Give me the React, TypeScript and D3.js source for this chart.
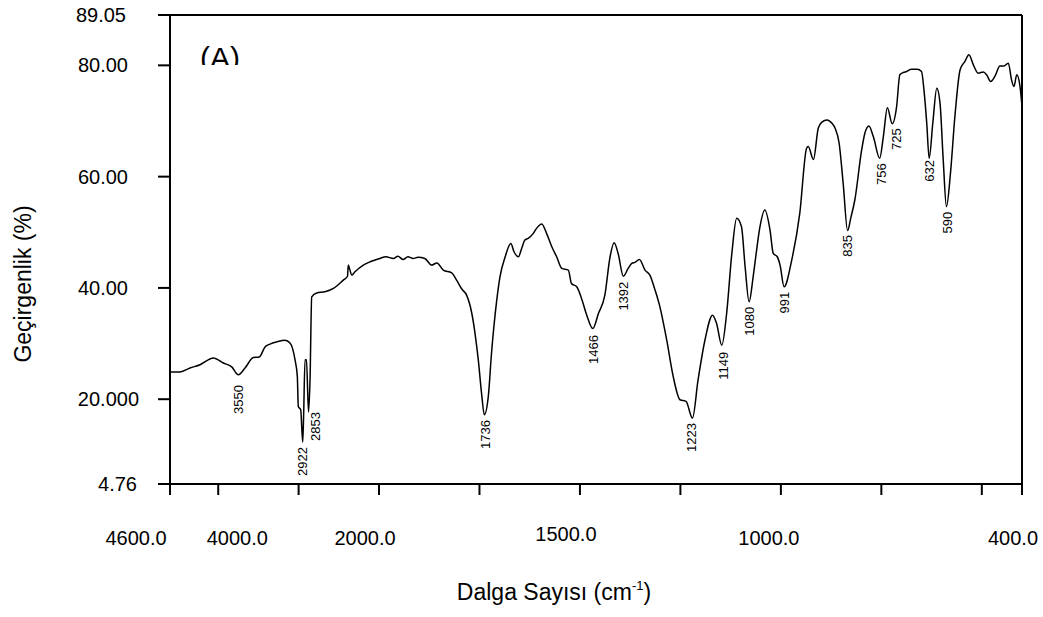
import React from "react";
import * as d3 from "d3";

const wavenumbers = [
  4600, 4475, 4351, 4226, 4061, 3937, 3832, 3750, 3667, 3563,
  3489, 3418, 3356, 3272, 3169, 3107, 3045, 3016, 3004, 2974,
  2949, 2939, 2920, 2902, 2877, 2858, 2837, 2775, 2672, 2568,
  2444, 2392, 2382, 2361, 2340, 2299, 2195, 2112, 1998, 1983,
  1964, 1953, 1940, 1928, 1915, 1903, 1886, 1869, 1856, 1840,
  1819, 1807, 1794, 1782, 1769, 1761, 1753, 1744, 1738, 1728,
  1720, 1707, 1699, 1686, 1672, 1664, 1653, 1645, 1637, 1629,
  1616, 1608, 1595, 1583, 1570, 1558, 1545, 1529, 1521, 1508,
  1496, 1483, 1468, 1454, 1438, 1425, 1415, 1405, 1392, 1380,
  1371, 1363, 1352, 1338, 1326, 1313, 1301, 1284, 1268, 1251,
  1236, 1220, 1206, 1189, 1170, 1160, 1147, 1135, 1122, 1110,
  1098, 1089, 1079, 1069, 1062, 1052, 1040, 1027, 1019, 1009,
  1002, 992, 973, 953, 936, 932, 919, 907, 898, 885,
  873, 865, 855, 845, 834, 826, 816, 799, 791, 781,
  770, 754, 745, 735, 723, 712, 704, 696, 687, 675,
  661, 650, 644, 637, 631, 622, 612, 604, 596, 588,
  578, 567, 554, 542, 532, 521, 509, 496, 488, 478,
  467, 455, 445, 434, 426, 420, 413, 405, 400,
];

const transmittance = [
  24.9, 24.9, 25.6, 26.2, 27.4, 26.5, 25.8, 24.4, 25.6, 27.5,
  27.6, 29.4, 29.9, 30.3, 30.6, 30.1, 27.1, 24.1, 18.7, 18.1,
  12.3, 16.3, 27.1, 27.1, 17.7, 23.5, 38.4, 39.1, 39.3, 39.9,
  41.4, 42.1, 44.1, 43.2, 42.3, 42.9, 44.1, 44.7, 45.3, 45.6,
  45.3, 45.7, 45.1, 45.6, 45.3, 45.5, 45.3, 44.1, 44.5, 43.2,
  42.7, 41.4, 39.8, 38.7, 35.4, 31.8, 27.1, 20.5, 17.2, 20.5,
  28.3, 37.8, 42.0, 45.6, 48.0, 46.5, 45.6, 47.1, 48.6, 48.9,
  49.8, 50.7, 51.5, 49.8, 47.4, 45.6, 43.5, 43.2, 40.8, 40.2,
  38.1, 35.1, 32.7, 35.4, 38.7, 45.6, 48.1, 46.2, 42.1, 43.5,
  44.4, 44.6, 45.1, 43.2, 42.3, 39.6, 36.6, 30.6, 24.1, 19.9,
  19.6, 16.6, 23.5, 30.6, 35.1, 33.6, 29.7, 35.4, 46.2, 52.5,
  51.0, 43.8, 37.5, 42.0, 45.9, 51.0, 54.0, 50.4, 46.2, 45.6,
  44.1, 40.2, 45.0, 53.4, 65.1, 65.4, 63.1, 68.7, 69.8, 70.2,
  69.6, 68.7, 66.0, 58.8, 50.3, 52.6, 55.8, 64.8, 67.8, 69.1,
  67.2, 63.3, 67.2, 72.4, 69.5, 72.6, 78.3, 78.7, 78.9, 79.3,
  79.3, 78.9, 75.6, 69.6, 63.3, 69.6, 75.9, 73.2, 63.0, 54.6,
  60.6, 70.8, 79.2, 80.7, 81.9, 80.1, 78.6, 78.8, 78.3, 77.1,
  78.1, 79.9, 79.9, 80.4, 77.4, 76.2, 78.3, 76.2, 72.6,
];

// peak labels: text, position (cm-1), top of label (%T)
const peakLabels = ["3550", "2922", "2853", "1736", "1466", "1392", "1223", "1149", "1080", "991", "835", "756", "725", "632", "590"];
const peakLabelWn = [3750, 2951, 2796, 1734, 1467, 1392, 1222, 1143, 1079, 992, 835, 749, 712, 631, 586];
const peakLabelT = [22.55, 11.41, 17.7, 16.26, 31.54, 41.12, 15.72, 28.54, 36.62, 39.32, 49.51, 62.4, 68.69, 62.99, 53.7];

const xTickValues = [4600, 4000, 3000, 2000, 1750, 1500, 1250, 1000, 750, 500, 400];
const xTickLabels = ["4600.0", "4000.0", "2000.0", "1500.0", "1000.0", "400.0"];
const xTickLabelValues = [4600, 4000, 2000, 1500, 1000, 400];
const xTickLabelDx = [-34, 19, -14, -14, -12, -9];
const xTickLabelDy = [0, 0, 0, -4, 0, 0];

const yTickValues = [89.05, 80, 60, 40, 20, 4.76];
const yTickLabels = ["89.05", "80.00", "60.00", "40.00", "20.000", "4.76"];
const yTickLabelEndX = [126, 128, 128, 128, 139, 137];

const W = 1043;
const H = 617;
const L = 170, R = 1022, T = 15, B = 484;

export default function App() {
  const x = d3.scaleLinear().domain([4600, 2000, 400]).range([L, 379, R]);
  const y = d3.scaleLinear().domain([4.76, 89.05]).range([B, T]);
  const pts: [number, number][] = wavenumbers.map((w, i) => [w, transmittance[i]]);
  const line = d3
    .line<[number, number]>()
    .x((d) => x(d[0]))
    .y((d) => y(d[1]))
    .curve(d3.curveMonotoneX);

  const font = "'Liberation Sans', Arial, sans-serif";

  return (
    <svg
      width={W}
      height={H}
      style={{ position: "absolute", left: 0, top: 0, background: "#fff" }}
      fontFamily={font}
    >
      <rect x={0} y={0} width={W} height={H} fill="#fff" />
      <defs>
        <clipPath id="clipA">
          <rect x={180} y={20} width={100} height={45} />
        </clipPath>
      </defs>
      {/* frame */}
      <line x1={L - 12} x2={R} y1={T} y2={T} stroke="#000" strokeWidth={2} />
      <line x1={L - 12} x2={R} y1={B} y2={B} stroke="#000" strokeWidth={2} />
      <line x1={L} x2={L} y1={T} y2={B + 11} stroke="#000" strokeWidth={2} />
      <line x1={R} x2={R} y1={T} y2={B + 11} stroke="#000" strokeWidth={2} />
      {/* y ticks */}
      {yTickValues.map((v, i) => (
        <g key={"yt" + i}>
          <line x1={L - 12} x2={L} y1={y(v)} y2={y(v)} stroke="#000" strokeWidth={2} />
          <text
            x={yTickLabelEndX[i]}
            y={y(v)}
            textAnchor="end"
            dominantBaseline="central"
            fontSize={20}
            fill="#000"
          >
            {yTickLabels[i]}
          </text>
        </g>
      ))}
      {/* x ticks */}
      {xTickValues.map((v, i) => (
        <line key={"xt" + i} x1={x(v)} x2={x(v)} y1={B} y2={B + 11} stroke="#000" strokeWidth={2} />
      ))}
      {xTickLabelValues.map((v, i) => (
        <text
          key={"xl" + i}
          x={x(v) + xTickLabelDx[i]}
          y={545 + xTickLabelDy[i]}
          textAnchor="middle"
          fontSize={20}
          fill="#000"
        >
          {xTickLabels[i]}
        </text>
      ))}
      {/* spectrum */}
      <path d={line(pts) || ""} fill="none" stroke="#000" strokeWidth={1.5} strokeLinejoin="round" />
      {/* peak labels */}
      {peakLabels.map((lab, i) => {
        const px = x(peakLabelWn[i]);
        const py = y(peakLabelT[i]);
        return (
          <text
            key={"pk" + i}
            transform={`translate(${px},${py}) rotate(-90)`}
            textAnchor="end"
            dominantBaseline="central"
            fontSize={13}
            fill="#000"
          >
            {lab}
          </text>
        );
      })}
      {/* panel label */}
      <text x={200} y={68} fontSize={30} fill="#000" clipPath="url(#clipA)">
        (A)
      </text>
      {/* axis titles */}
      <text
        transform={`translate(23,284) rotate(-90)`}
        textAnchor="middle"
        dominantBaseline="central"
        fontSize={23}
        fill="#000"
      >
        Geçirgenlik (%)
      </text>
      <text x={554} y={600} textAnchor="middle" fontSize={23} fill="#000">
        Dalga Sayısı (cm
        <tspan fontSize={13} dy={-10}>-1</tspan>
        <tspan dy={10}>)</tspan>
      </text>
    </svg>
  );
}
